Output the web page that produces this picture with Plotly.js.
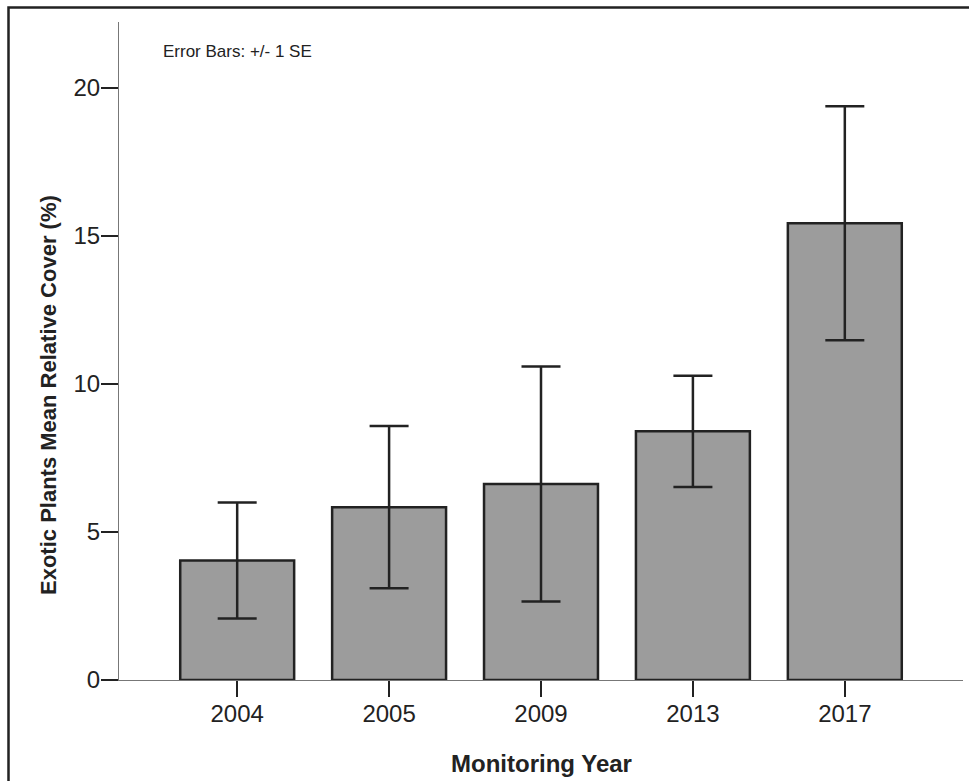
<!DOCTYPE html>
<html>
<head>
<meta charset="utf-8">
<script src="https://cdn.plot.ly/plotly-3.0.1.min.js"></script>
<style>html,body{margin:0;padding:0;background:#fff;}#chart{width:969px;height:781px;}</style>
</head>
<body>
<div id="chart"></div>
<script>
const years = ["2004", "2005", "2009", "2013", "2017"];
const meanCover = [4.04, 5.84, 6.62, 8.40, 15.43];
const seCover = [1.96, 2.74, 3.97, 1.88, 3.95];
const yTickVals = [0, 5, 10, 15, 20];

const FONT = "Liberation Sans, Arial, sans-serif";
const DARK = "#222222";

const trace = {
  type: "bar",
  x: years,
  y: meanCover,
  marker: {color: "#9c9c9c", line: {color: DARK, width: 2.5}},
  error_y: {type: "data", array: seCover, visible: true, color: DARK, thickness: 2.5, width: 19.5},
  hoverinfo: "skip"
};

const layout = {
  width: 969, height: 781,
  margin: {l: 119, r: 6, t: 22, b: 101},
  paper_bgcolor: "#ffffff", plot_bgcolor: "#ffffff",
  showlegend: false,
  bargap: 0.25,
  font: {family: FONT, color: DARK},
  xaxis: {
    type: "category",
    range: [-0.778, 4.778],
    showgrid: false, zeroline: false,
    showline: true, linecolor: "#777777", linewidth: 1,
    ticks: "outside", ticklen: 16, tickwidth: 2, tickcolor: DARK,
    ticklabelstandoff: -4,
    tickfont: {family: FONT, size: 24, color: DARK}
  },
  yaxis: {
    range: [0, 22.23],
    tickvals: yTickVals,
    showgrid: false, zeroline: false,
    showline: true, linecolor: "#777777", linewidth: 1,
    ticks: "outside", ticklen: 17, tickwidth: 2, tickcolor: DARK,
    ticklabelstandoff: -4,
    tickfont: {family: FONT, size: 24, color: DARK}
  },
  annotations: [
    {text: "Error Bars: +/- 1 SE", xref: "paper", yref: "paper",
     x: (161 - 119) / 844, y: (680 - 51) / 658, xanchor: "left", yanchor: "middle",
     showarrow: false, font: {family: FONT, size: 17, color: DARK}},
    {text: "<b>Exotic Plants Mean Relative Cover (%)</b>", xref: "paper", yref: "paper",
     x: (48 - 119) / 844, y: (680 - 395) / 658, xanchor: "center", yanchor: "middle",
     textangle: -90, showarrow: false, font: {family: FONT, size: 22, color: DARK}},
    {text: "<b>Monitoring Year</b>", xref: "paper", yref: "paper",
     x: 0.5, y: (680 - 763) / 658, xanchor: "center", yanchor: "middle",
     showarrow: false, font: {family: FONT, size: 24, color: DARK}}
  ],
  shapes: [
    {type: "rect", xref: "paper", yref: "paper",
     x0: (8.5 - 119) / 844, x1: 1.2, y0: -0.3, y1: (680 - 7.5) / 658,
     line: {color: DARK, width: 2.5}, fillcolor: "rgba(0,0,0,0)", layer: "above"}
  ]
};

Plotly.newPlot("chart", [trace], layout, {staticPlot: true, displayModeBar: false});
</script>
</body>
</html>
